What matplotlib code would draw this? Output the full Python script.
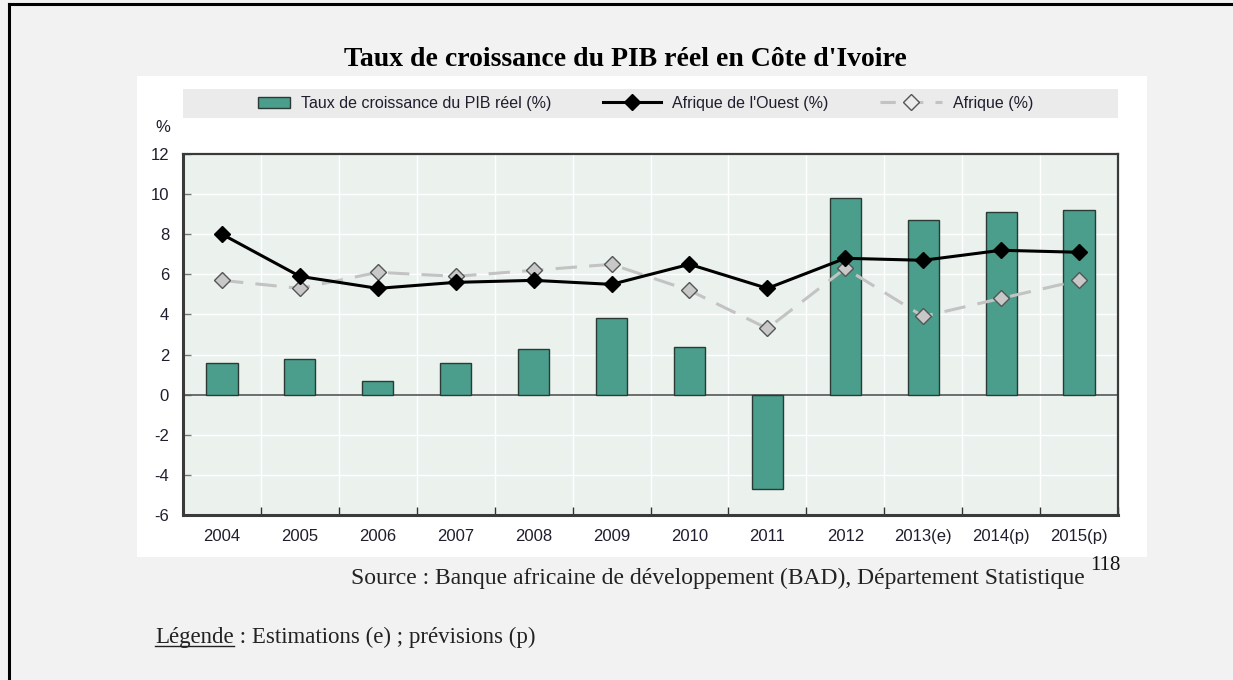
import matplotlib
matplotlib.use("Agg")
import matplotlib.pyplot as plt
from matplotlib import font_manager
from matplotlib.patches import Rectangle, Patch
from matplotlib.lines import Line2D
import numpy as np

# données
annees = ["2004", "2005", "2006", "2007", "2008", "2009", "2010", "2011",
          "2012", "2013(e)", "2014(p)", "2015(p)"]
pib_civ = [1.6, 1.8, 0.7, 1.6, 2.3, 3.8, 2.4, -4.7, 9.8, 8.7, 9.1, 9.2]
afrique_ouest = [8.0, 5.9, 5.3, 5.6, 5.7, 5.5, 6.5, 5.3, 6.8, 6.7, 7.2, 7.1]
afrique = [5.7, 5.3, 6.1, 5.9, 6.2, 6.5, 5.2, 3.3, 6.3, 3.9, 4.8, 5.7]
y_ticks = [-6, -4, -2, 0, 2, 4, 6, 8, 10, 12]
labels = ["Taux de croissance du PIB réel (%)", "Afrique de l'Ouest (%)", "Afrique (%)"]

W, H = 1233, 680


def has_font(name):
    return any(f.name == name for f in font_manager.fontManager.ttflist)


sans = "Liberation Sans Narrow" if has_font("Liberation Sans Narrow") else "Liberation Sans"
serif = "Liberation Serif"
txt_col = "#1e1e2e"
vert = "#4a9e8b"


def fx(px):
    return px / W


def fy(py):
    return 1 - py / H


fig = plt.figure(figsize=(W / 100, H / 100), dpi=100)
fig.patch.set_facecolor("#f2f2f2")

# cadre de la page (gauche et haut)
fig.add_artist(Line2D([fx(9), fx(9)], [0, fy(4)], color="black", lw=2.2))
fig.add_artist(Line2D([fx(9), 1], [fy(4), fy(4)], color="black", lw=2.2))

# panneau blanc
fig.add_artist(Rectangle((fx(137), fy(557)), fx(1147) - fx(137), fy(76) - fy(557),
                         facecolor="white", edgecolor="none", zorder=0))
# bande de légende
fig.add_artist(Rectangle((fx(183), fy(118)), fx(1118) - fx(183), fy(89) - fy(118),
                         facecolor="#ebebeb", edgecolor="none", zorder=1))

ax = fig.add_axes([fx(183), fy(515), fx(1118) - fx(183), fy(154) - fy(515)])
ax.set_facecolor("#ebf2ee")

x = np.arange(len(annees))
ax.bar(x, pib_civ, width=0.4, color=vert, edgecolor="#2b3a35", lw=1.0, zorder=3)
ax.axhline(0, color="#555555", lw=1.2, zorder=2)
ax.plot(x, afrique_ouest, color="black", lw=2.2, marker="D", ms=8.5,
        mfc="black", mec="black", zorder=5)
ax.plot(x, afrique, color="#c3c3c3", lw=2.2, dashes=(7, 4), marker="D", ms=8.5,
        mfc="#c8c8c8", mec="#555555", mew=1.0, zorder=4)

ax.set_xlim(-0.5, len(annees) - 0.5)
ax.set_ylim(-6, 12)
ax.set_yticks(y_ticks)
ax.set_yticklabels([str(v) for v in y_ticks])
ax.set_xticks(x)
ax.set_xticklabels(annees)
ax.set_xticks(np.arange(len(annees) + 1) - 0.5, minor=True)

ax.grid(False)
for v in y_ticks:
    ax.axhline(v, color="white", lw=1.0, zorder=1)
for b in np.arange(1, len(annees)) - 0.5:
    ax.axvline(b, color="white", lw=1.0, zorder=1)

ax.tick_params(axis="x", which="major", length=0, pad=10, labelsize=12, labelcolor=txt_col)
ax.tick_params(axis="x", which="minor", direction="in", length=6, width=1, color="#333333")
ax.tick_params(axis="y", direction="in", length=6, width=1, color="#777777",
               pad=10, labelsize=12, labelcolor=txt_col)
for lab in ax.get_xticklabels() + ax.get_yticklabels():
    lab.set_fontfamily(sans)
for side, s in ax.spines.items():
    s.set_color("#3a3a3a")
    s.set_linewidth(2.2 if side in ("left", "bottom") else 1.6)

fig.text(fx(163), fy(128), "%", ha="center", va="center", fontsize=12,
         color=txt_col, family=sans)

# légende : une entrée par bloc, placée comme sur l'original
handles = [
    Patch(facecolor=vert, edgecolor="#2b3a35", lw=1.0),
    Line2D([], [], color="black", lw=2.2, marker="D", ms=8),
    Line2D([], [], color="#c3c3c3", lw=2.2, dashes=(5, 4), marker="D", ms=8,
           mfc="#ebebeb", mec="#555555", mew=1.0),
]
starts = [258, 603, 880]
hlens = [2.0, 3.6, 3.9]
for h, lab, x0, hl in zip(handles, labels, starts, hlens):
    fig.legend([h], [lab], loc="center left", bbox_to_anchor=(fx(x0), fy(103.5)),
               frameon=False, borderpad=0, borderaxespad=0, handlelength=hl,
               handletextpad=0.7, prop={"family": sans, "size": 11.5},
               labelcolor=txt_col)

fig.text(fx(625), fy(60), "Taux de croissance du PIB réel en Côte d'Ivoire",
         ha="center", va="center", fontsize=20, fontweight="bold", family=serif)

fig.text(fx(1085), fy(578), "Source : Banque africaine de développement (BAD), Département Statistique",
         ha="right", va="center", fontsize=17, family=serif, color="#222222")
fig.text(fx(1090), fy(566), "118", ha="left", va="center", fontsize=15,
         family=serif, color="#111111")

t1 = fig.text(fx(155), fy(637), "Légende", ha="left", va="center", fontsize=16.5,
              family=serif, color="#222222")
fig.canvas.draw()
bb = t1.get_window_extent(renderer=fig.canvas.get_renderer())
x1 = bb.x1 / W
fig.text(x1, fy(637), " : Estimations (e) ; prévisions (p)", ha="left", va="center",
         fontsize=16.5, family=serif, color="#222222")
fig.add_artist(Line2D([bb.x0 / W, x1], [bb.y0 / H + 0.002, bb.y0 / H + 0.002],
                      color="#222222", lw=1.0))

fig.savefig("out.png", dpi=100, facecolor=fig.get_facecolor())
